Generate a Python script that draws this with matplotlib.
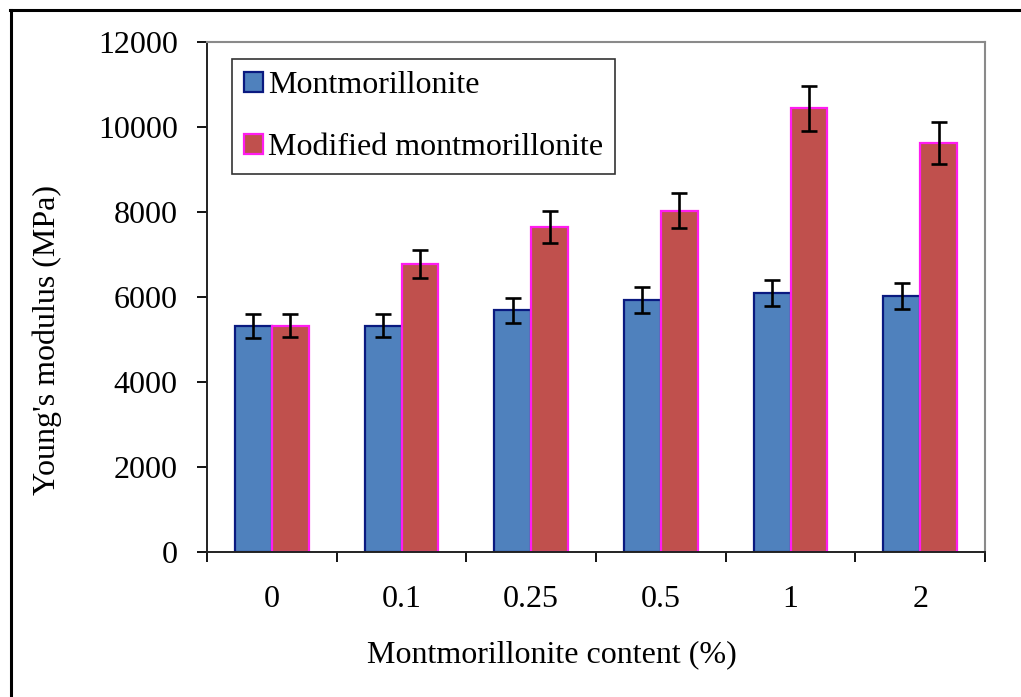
import matplotlib
matplotlib.use("Agg")
import matplotlib.pyplot as plt
import numpy as np
from matplotlib.lines import Line2D

# --- Data ---
categories = ["0", "0.1", "0.25", "0.5", "1", "2"]
mmt_values = [5325, 5325, 5686, 5929, 6086, 6024]
mmt_errors = [280, 275, 300, 305, 306, 310]
mod_values = [5325, 6776, 7647, 8031, 10440, 9616]
mod_errors = [275, 340, 380, 410, 530, 490]

series_labels = ["Montmorillonite", "Modified montmorillonite"]

# --- Style ---
plt.rcParams["font.family"] = ["Liberation Serif", "DejaVu Serif"]
FS = 23

W, H = 1021, 697
fig = plt.figure(figsize=(W / 100, H / 100), dpi=100)
ax = fig.add_axes([207 / W, 1 - 552 / H, (985 - 207) / W, (552 - 42) / H])

x = np.arange(len(categories))
bw = 0.285

ax.bar(x - bw / 2, mmt_values, bw, color="#4F81BD", edgecolor="#0A1A80",
       linewidth=1.6, label=series_labels[0], zorder=2)
ax.bar(x + bw / 2, mod_values, bw, color="#C0504D", edgecolor="#FF1CF0",
       linewidth=1.6, label=series_labels[1], zorder=2)

err_kw = dict(fmt="none", ecolor="black", elinewidth=1.9, capsize=5.5, capthick=1.9, zorder=3)
ax.errorbar(x - bw / 2, mmt_values, yerr=mmt_errors, **err_kw)
ax.errorbar(x + bw / 2, mod_values, yerr=mod_errors, **err_kw)

# axes
ax.set_xlim(-0.5, len(categories) - 0.5)
ax.set_ylim(0, 12000)
ax.set_yticks(np.arange(0, 12001, 2000))
ax.set_xticks(x)
ax.set_xticklabels(categories)
ax.set_xticks(np.arange(-0.5, len(categories), 1.0), minor=True)

ax.tick_params(axis="y", direction="out", length=7, width=1.3, pad=14, labelsize=FS)
ax.tick_params(axis="x", which="major", length=0, pad=24, labelsize=FS)
ax.tick_params(axis="x", which="minor", direction="out", length=7, width=1.3)

for side in ["left", "bottom"]:
    ax.spines[side].set_color("#222222")
    ax.spines[side].set_linewidth(1.4)
for side in ["top", "right"]:
    ax.spines[side].set_color("#8a8a8a")
    ax.spines[side].set_linewidth(1.5)

ax.set_ylabel("Young's modulus (MPa)", fontsize=FS, va="center")
ax.yaxis.set_label_coords(-0.205, 0.416)
ax.set_xlabel("Montmorillonite content (%)", fontsize=FS, va="center")
ax.xaxis.set_label_coords(0.443, -0.202)

leg = ax.legend(loc="upper left", bbox_to_anchor=(0.032, 0.966), fontsize=FS,
                frameon=True, fancybox=False, edgecolor="black",
                handlelength=0.6, handleheight=0.6, handletextpad=0.15,
                labelspacing=1.02, borderpad=0.38, borderaxespad=0)
leg.get_frame().set_linewidth(1.2)

# outer chart border (left and top edges visible)
fig.add_artist(Line2D([10.5 / W, 10.5 / W], [0, 1 - 10 / H], color="black", lw=2.2,
                      transform=fig.transFigure))
fig.add_artist(Line2D([10 / W, 1], [1 - 10 / H, 1 - 10 / H], color="black", lw=2.2,
                      transform=fig.transFigure))

fig.savefig("out.png", dpi=100)
plt.close(fig)
